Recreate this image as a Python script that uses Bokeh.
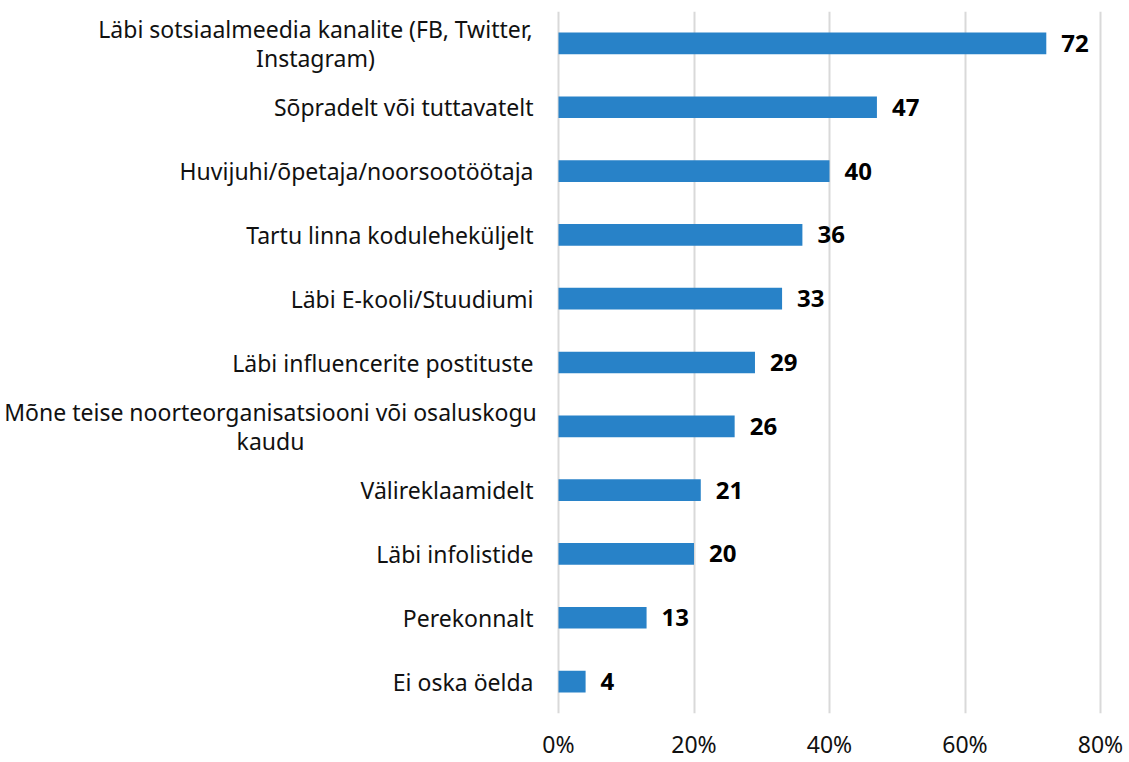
from bokeh.plotting import figure
from bokeh.models import FactorRange, FixedTicker, ColumnDataSource
from bokeh.core.properties import value
from bokeh.embed import file_html
from bokeh.resources import INLINE

categories = [
    "Läbi sotsiaalmeedia kanalite (FB, Twitter,\nInstagram)",
    "Sõpradelt või tuttavatelt",
    "Huvijuhi/õpetaja/noorsootöötaja",
    "Tartu linna koduleheküljelt",
    "Läbi E-kooli/Stuudiumi",
    "Läbi influencerite postituste",
    "Mõne teise noorteorganisatsiooni või osaluskogu\nkaudu",
    "Välireklaamidelt",
    "Läbi infolistide",
    "Perekonnalt",
    "Ei oska öelda",
]
values = [72, 47, 40, 36, 33, 29, 26, 21, 20, 13, 4]
tick_values = [0, 20, 40, 60, 80]
tick_labels = ["0%", "20%", "40%", "60%", "80%"]

FONT = "Noto Sans"
FS = "23px"
PX_PER_UNIT = 542 / 80.0

label_offsets = []
label_align = []
for c in categories:
    if "\n" in c:
        label_align.append("center")
        label_offsets.append(None)
    else:
        label_align.append("right")
        label_offsets.append(-25)
block_half = {0: 218, 6: 263}
for i, h in block_half.items():
    label_offsets[i] = -25 - h

src = ColumnDataSource(dict(
    cat=categories,
    val=values,
    lab=[str(v) for v in values],
    zero=[0] * len(values),
    xoff=label_offsets,
    align=label_align,
))

W = 1125
left_px = 558
right_px = W - 558
p = figure(
    width=W, height=762,
    y_range=FactorRange(*list(reversed(categories)), range_padding=0),
    x_range=(-left_px / PX_PER_UNIT, right_px / PX_PER_UNIT),
    output_backend="svg", toolbar_location=None,
    min_border_left=0, min_border_right=0, min_border_top=11, min_border_bottom=0,
)
p.outline_line_color = None
p.background_fill_color = "white"
p.border_fill_color = "white"

p.hbar(y="cat", right="val", left=0, height=0.34, source=src,
       fill_color="#2882C8", line_color=None)

p.text(x="zero", y="cat", text="cat", source=src, x_offset="xoff",
       text_align="align", text_baseline="middle",
       text_font=value(FONT), text_font_size=FS, text_color="#111111",
       text_line_height=0.92)

p.text(x="val", y="cat", text="lab", source=src, x_offset=15,
       text_align="left", text_baseline="middle",
       text_font=value(FONT), text_font_size="24px", text_font_style="bold",
       text_color="black")

p.yaxis.visible = False
p.ygrid.grid_line_color = None
p.xgrid.ticker = FixedTicker(ticks=tick_values)
p.xgrid.grid_line_color = "#D9D9D9"
p.xgrid.grid_line_width = 2

p.xaxis.ticker = FixedTicker(ticks=tick_values)
p.xaxis.major_label_overrides = {v: l for v, l in zip(tick_values, tick_labels)}
p.xaxis.axis_line_color = None
p.xaxis.major_tick_line_color = None
p.xaxis.minor_tick_line_color = None
p.xaxis.major_tick_out = 0
p.xaxis.major_tick_in = 0
p.xaxis.minor_tick_out = 0
p.xaxis.major_label_text_font = FONT
p.xaxis.major_label_text_font_size = FS
p.xaxis.major_label_text_color = "#111111"
p.xaxis.major_label_standoff = 14

open("out.html", "w").write(file_html(p, INLINE))
